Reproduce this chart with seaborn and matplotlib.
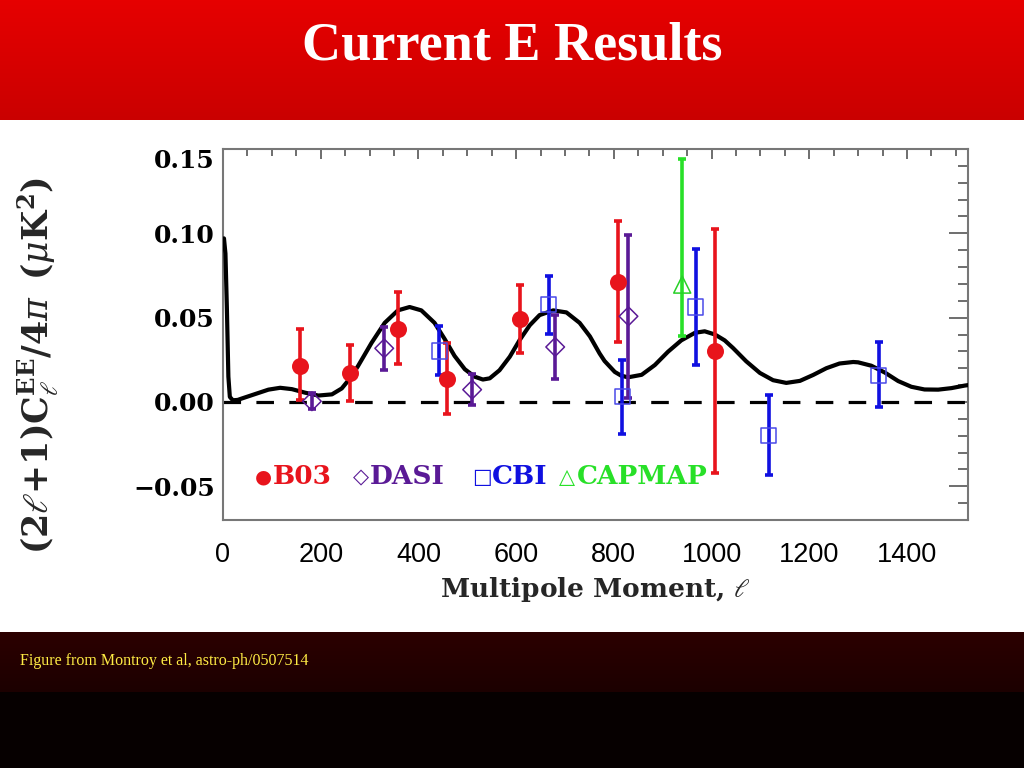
import numpy as np
import pandas as pd
import matplotlib
matplotlib.use("Agg")
import matplotlib.pyplot as plt
import seaborn as sns

# ---------------- data ----------------
title_text = "Current E Results"
footer_text = "Figure from Montroy et al, astro-ph/0507514"
x_label = r"Multipole Moment, $\ell$"

theory_ell = [2, 5, 8, 11, 14, 20, 30, 38, 66, 93, 117, 141, 168, 195, 223, 243, 260,
              276, 304, 331, 358, 382, 406, 433, 454, 474, 495, 515, 532, 546, 566,
              587, 607, 628, 648, 676, 703, 730, 751, 771, 781, 802, 815, 829, 857, 884,
              911, 938, 966, 986, 1007, 1027, 1044, 1071, 1099, 1126, 1153, 1181,
              1208, 1235, 1262, 1290, 1300, 1327, 1355, 1382, 1409, 1436, 1464,
              1491, 1518, 1525]
theory_cl = [0.097, 0.088, 0.055, 0.015, 0.003, 0.001, 0.0012, 0.002, 0.0047, 0.0073,
             0.0084, 0.0076, 0.0055, 0.0038, 0.0045, 0.0080, 0.0140, 0.0211, 0.0350,
             0.0469, 0.0543, 0.0563, 0.0543, 0.0469, 0.0372, 0.0273, 0.0194, 0.0150,
             0.0133, 0.0140, 0.0188, 0.0268, 0.0366, 0.0455, 0.0515, 0.0543, 0.0531,
             0.0469, 0.0389, 0.0287, 0.0243, 0.0178, 0.0156, 0.0146, 0.0161, 0.0219,
             0.0298, 0.0365, 0.0410, 0.0419, 0.0400, 0.0365, 0.0320, 0.0241, 0.0172,
             0.0129, 0.0113, 0.0125, 0.0160, 0.0200, 0.0228, 0.0237, 0.0235, 0.0215,
             0.0174, 0.0124, 0.0090, 0.0074, 0.0073, 0.0082, 0.0097, 0.0100]

b03_ell = [158, 259, 359, 458, 608, 808, 1007]
b03_val = [0.0215, 0.0172, 0.0435, 0.0138, 0.0492, 0.0714, 0.0302]
b03_lo = [0.0014, 0.0004, 0.0225, -0.007, 0.029, 0.0356, -0.0421]
b03_hi = [0.0433, 0.034, 0.0652, 0.035, 0.0696, 0.1075, 0.1026]

dasi_ell = [182, 330, 510, 680, 830]
dasi_val = [0.0004, 0.0318, 0.0073, 0.0326, 0.0508]
dasi_lo = [-0.0042, 0.0192, -0.002, 0.0136, 0.0024]
dasi_hi = [0.0053, 0.0445, 0.0166, 0.0518, 0.099]

cbi_ell = [443, 667, 817, 968, 1117, 1342]
cbi_val = [0.0302, 0.0579, 0.0031, 0.0563, -0.0198, 0.0158]
cbi_lo = [0.0158, 0.0405, -0.019, 0.0217, -0.0435, -0.0032]
cbi_hi = [0.0449, 0.0749, 0.0249, 0.0909, 0.0043, 0.0356]

capmap_ell = [940]
capmap_val = [0.0696]
capmap_lo = [0.0389]
capmap_hi = [0.1441]

legend_labels = ["B03", "DASI", "CBI", "CAPMAP"]
legend_symbols = ["\u25cf", "\u25c7", "\u25a1", "\u25b3"]

x_ticks = [0, 200, 400, 600, 800, 1000, 1200, 1400]
y_ticks = [-0.05, 0.00, 0.05, 0.10, 0.15]
y_ticklabels = ["\u22120.05", "0.00", "0.05", "0.10", "0.15"]

# ---------------- styling ----------------
sns.set_theme(style="white")
plt.rcParams["font.family"] = ["DejaVu Serif", "DejaVu Sans"]
plt.rcParams["mathtext.fontset"] = "dejavuserif"

W, H = 1024, 768
fig = plt.figure(figsize=(W / 100, H / 100), dpi=100)
fig.patch.set_facecolor("white")

# background bands (slide decoration)
bg = fig.add_axes([0, 0, 1, 1], zorder=-10)
bg.set_axis_off()
img = np.ones((H, 1, 3))
rows = np.arange(H)
top = rows < 120
t = rows[top] / 120.0
img[top, 0, 0] = (230 - 28 * t) / 255
img[top, 0, 1] = 0
img[top, 0, 2] = 0
foot1 = (rows >= 632) & (rows < 692)
tf = (rows[foot1] - 632) / 60.0
img[foot1, 0, 0] = (44 - 16 * tf) / 255
img[foot1, 0, 1] = 0
img[foot1, 0, 2] = 0
foot2 = rows >= 692
img[foot2, 0, 0] = 6 / 255
img[foot2, 0, 1] = 0
img[foot2, 0, 2] = 0
bg.imshow(img, aspect="auto", extent=[0, 1, 0, 1], interpolation="nearest")
bg.set_xlim(0, 1)
bg.set_ylim(0, 1)

fig.text(0.5, 1 - 60 / H, title_text, color="white", fontsize=39, fontweight="bold",
         family="Liberation Serif", ha="center", va="baseline")
fig.text(20 / W, 1 - 661 / H, footer_text, color="#ffec44", fontsize=11.5,
         family="Liberation Serif", ha="left", va="center")

# main axes
ax = fig.add_axes([223 / W, 1 - 520 / H, (968 - 223) / W, (520 - 149) / H])
ax.set_facecolor("white")

theory = pd.DataFrame({"ell": theory_ell, "cl": theory_cl})
sns.lineplot(data=theory, x="ell", y="cl", ax=ax, color="black", lw=3.0,
             solid_joinstyle="round", zorder=3, legend=False)
ax.axhline(0, color="black", lw=2.3, ls=(0, (5.5, 4.8)), zorder=2)

sets = [
    (b03_ell, b03_val, b03_lo, b03_hi, "#e8141c", "o", True, "#e8141c"),
    (dasi_ell, dasi_val, dasi_lo, dasi_hi, "#5a1a96", "D", False, "#5a1a96"),
    (cbi_ell, cbi_val, cbi_lo, cbi_hi, "#1010e0", "s", False, "#4a4ae8"),
    (capmap_ell, capmap_val, capmap_lo, capmap_hi, "#28e028", "^", False, "#28d028"),
]
for ell, val, lo, hi, col, mk, filled, ecol in sets:
    val = np.array(val)
    yerr = [val - np.array(lo), np.array(hi) - val]
    ax.errorbar(ell, val, yerr=yerr, fmt="none", ecolor=col, elinewidth=2.6,
                capsize=3.2, capthick=2.6, zorder=4)
    df = pd.DataFrame({"ell": ell, "val": val})
    size = {"o": 150, "D": 90, "s": 120, "^": 150}[mk]
    if filled:
        sns.scatterplot(data=df, x="ell", y="val", ax=ax, marker=mk, s=size,
                        color=col, edgecolor=col, linewidth=0, zorder=5, legend=False)
    else:
        sns.scatterplot(data=df, x="ell", y="val", ax=ax, marker=mk, s=size,
                        facecolor="none", edgecolor=ecol, linewidth=1.1, zorder=5,
                        legend=False)

# legend drawn as text
leg_cols = ["#e8141c", "#5a1a96", "#1010e0", "#28e028"]
sym_x = [263, 361, 482, 567]
txt_x = [273, 370, 492, 577]
ly = (520 - 477) / (520 - 149)
sym_sizes = [14, 15, 15, 15]
for lab, sym, col, sx, tx, ss in zip(legend_labels, legend_symbols, leg_cols, sym_x,
                                     txt_x, sym_sizes):
    ax.text((sx - 223) / 745, ly, sym, color=col, fontsize=ss, family="DejaVu Sans",
            ha="center", va="center", transform=ax.transAxes)
    ax.text((tx - 223) / 745, ly, lab, color=col, fontsize=19, fontweight="bold",
            family="DejaVu Serif", ha="left", va="center", transform=ax.transAxes)

ax.set_xlim(0, 1525)
ax.set_ylim(-0.07, 0.15)
ax.set_xticks(x_ticks)
ax.set_xticklabels([str(v) for v in x_ticks], family="Liberation Sans", fontsize=19.5)
ax.set_xticks(np.arange(0, 1525, 50), minor=True)
ax.set_yticks(y_ticks)
ax.set_yticklabels(y_ticklabels, family="DejaVu Serif", fontweight="bold", fontsize=18)
ax.set_yticks(np.arange(-0.07, 0.151, 0.01), minor=True)
ax.tick_params(which="both", direction="in", top=True, right=True, colors="#555555",
               labelcolor="black")
ax.tick_params(axis="y", which="major", length=14, width=1.2, pad=6)
ax.tick_params(axis="y", which="minor", length=7, width=1.2)
ax.tick_params(axis="x", which="major", length=7, width=1.2, pad=16)
ax.tick_params(axis="x", which="minor", length=5, width=1.2)
for sp in ax.spines.values():
    sp.set_color("#777777")
    sp.set_linewidth(1.5)
# IDL-style nudge of the top label inside the frame
for lbl in ax.get_yticklabels():
    if lbl.get_text() == "0.15":
        lbl.set_va("top")

ax.set_xlabel(x_label, fontsize=19, fontweight="bold", family="DejaVu Serif",
              labelpad=5)
ax.set_ylabel(r"$\mathbf{(2}\ell\mathbf{+1)C}_{\ell}^{\mathbf{EE}}\mathbf{/4}\pi\;\;\mathbf{(}\mu\mathbf{K}^{\mathbf{2}}\mathbf{)}$",
              fontsize=25)
ax.yaxis.label.set_va("center")
ax.yaxis.set_label_coords((38 - 223) / 745, (520 - 365) / 371)

fig.savefig("out.png", dpi=100)
